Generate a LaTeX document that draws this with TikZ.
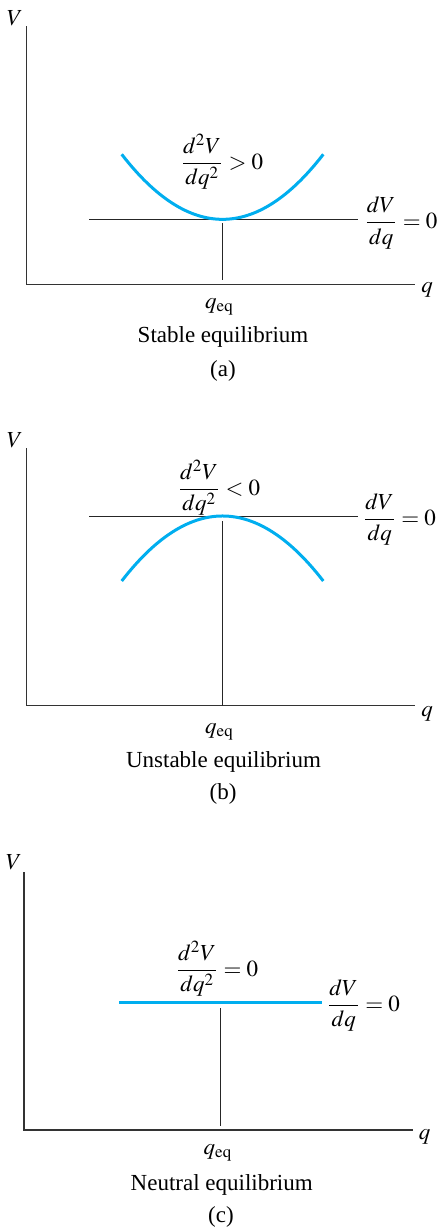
\documentclass[tikz,border=0pt]{standalone}
\usepackage{amsmath}
\usepackage{mathptmx}
\usepackage[no-math]{fontspec}
\setmainfont{Liberation Serif}
\definecolor{curveblue}{RGB}{0,174,239}
\begin{document}
\begin{tikzpicture}[x=0.5pt,y=-0.5pt,
  lbl/.style={font=\fontsize{11.5}{14}\selectfont, inner sep=0pt, anchor=base},
  axis/.style={draw=black!80, line width=0.6pt},
  guide/.style={draw=black!85, line width=0.45pt},
  curve/.style={draw=curveblue, line width=1.5pt}]
\useasboundingbox (0,0) rectangle (436,1228);
% ---------- (a) stable ----------
\draw[axis] (26.7,26) -- (26.7,284.3) -- (415,284.3);
\draw[guide] (89,219.3) -- (358,219.3);
\draw[guide] (222.7,223) -- (222.7,280);
\draw[curve] (121.7,154.3) .. controls (188.9,241) and (256.1,241) .. (323.3,154.3);
\node[lbl] (Va) at (15,25) {$V$};
\node[lbl] (qa) at (427,292) {$q$};
\node[lbl] (qeqa) at (219.5,308) {$q_{\mathrm{eq}}$};
\node[lbl] (d2a) at (222,169) {$\dfrac{d^2V}{dq^2} > 0$};
\node[lbl] (d1a) at (401,228.5) {$\dfrac{dV}{dq} = 0$};
\node[lbl] (ta) at (223,342) {Stable equilibrium};
\node[lbl] (pa) at (223,376) {(a)};
% ---------- (b) unstable ----------
\draw[axis] (26.7,448) -- (26.7,705.7) -- (415,705.7);
\draw[guide] (89,516) -- (358,516);
\draw[guide] (222.5,521) -- (222.5,705.7);
\draw[curve] (121.7,581) .. controls (188.9,494.3) and (256.1,494.3) .. (323.3,581);
\node[lbl] (Vb) at (15,447) {$V$};
\node[lbl] (qb) at (427,716) {$q$};
\node[lbl] (qeqb) at (219.5,733) {$q_{\mathrm{eq}}$};
\node[lbl] (d2b) at (219,495) {$\dfrac{d^2V}{dq^2} < 0$};
\node[lbl] (d1b) at (399.5,525) {$\dfrac{dV}{dq} = 0$};
\node[lbl] (tb) at (223.5,767) {Unstable equilibrium};
\node[lbl] (pb) at (223,799) {(b)};
% ---------- (c) neutral ----------
\draw[axis] (24,872) -- (24,1130) -- (413,1130);
\draw[curve] (119,1002.3) -- (321.7,1002.3);
\draw[guide] (220,1008) -- (220,1126);
\node[lbl] (Vc) at (14,869) {$V$};
\node[lbl] (qc) at (424.5,1139) {$q$};
\node[lbl] (qeqc) at (218,1154) {$q_{\mathrm{eq}}$};
\node[lbl] (d2c) at (217,976) {$\dfrac{d^2V}{dq^2} = 0$};
\node[lbl] (d1c) at (363.5,1011) {$\dfrac{dV}{dq} = 0$};
\node[lbl] (tc) at (221.7,1190) {Neutral equilibrium};
\node[lbl] (pc) at (221,1222) {(c)};
\end{tikzpicture}
\end{document}
